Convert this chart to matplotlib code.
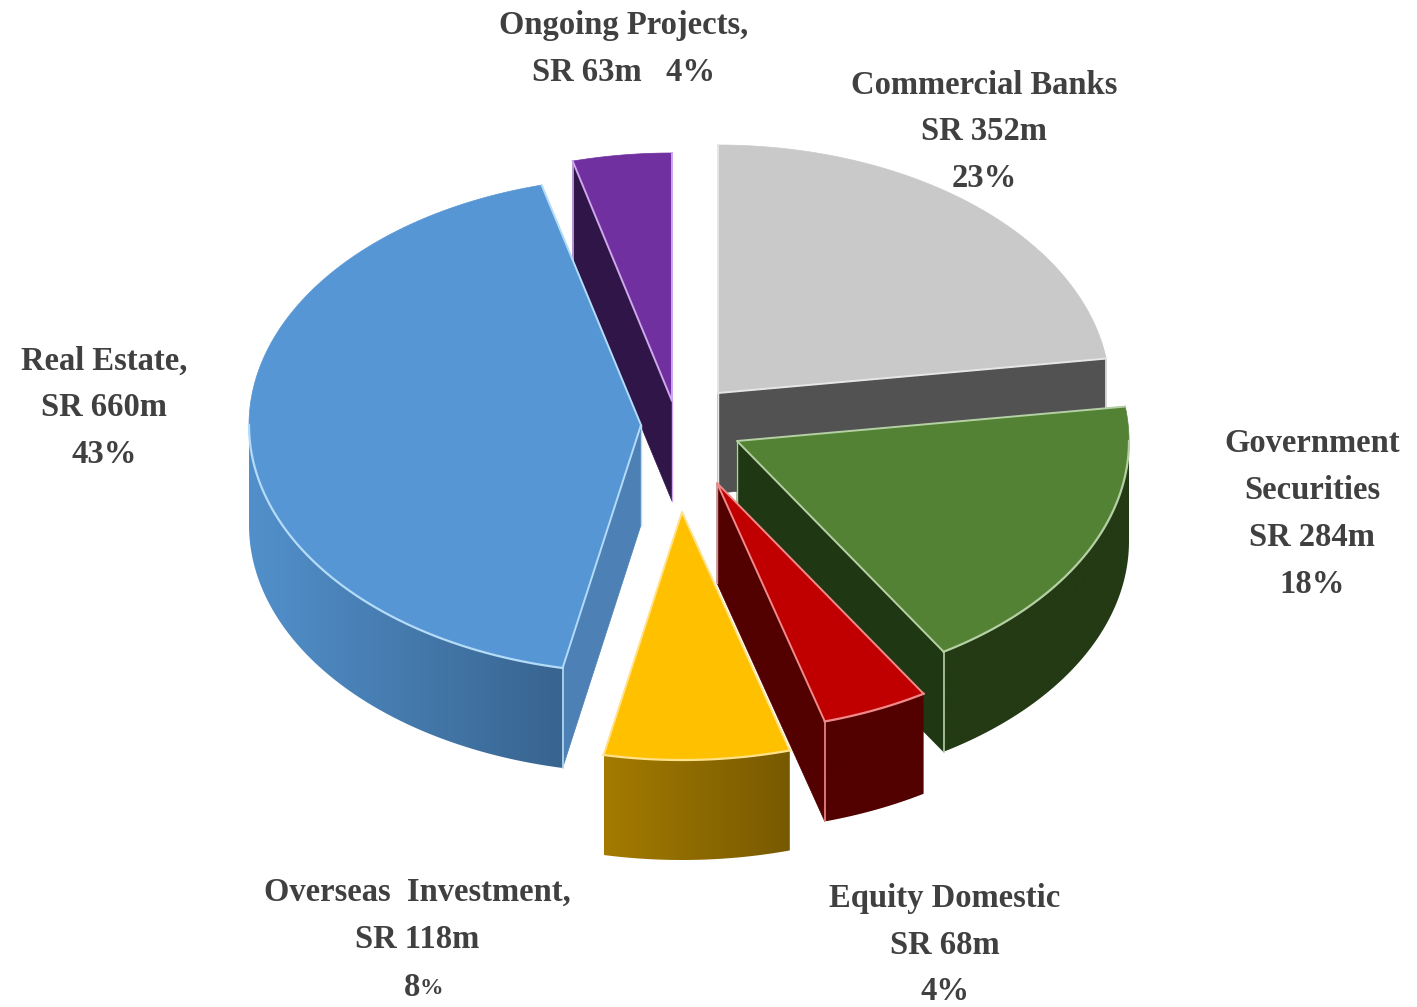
import numpy as np
import matplotlib
matplotlib.use('Agg')
from matplotlib import pyplot as plt
from matplotlib.colors import to_rgb
from matplotlib.patches import Polygon

# Investment portfolio, SR million, clockwise from 12 o'clock
names = ['Commercial Banks', 'Government Securities', 'Equity Domestic',
         'Overseas Investment', 'Real Estate', 'Ongoing Projects']
values = [352, 284, 68, 118, 660, 63]

labels = ['Commercial Banks\nSR 352m\n23%',
          'Government\nSecurities\nSR 284m\n18%',
          'Equity Domestic\nSR 68m\n4%',
          'Overseas  Investment,\nSR 118m',
          'Real Estate,\nSR 660m\n43%',
          'Ongoing Projects,\nSR 63m   4%']

# Pixel canvas layout
RX, RY, DEPTH = 392, 248, 100
apex = [(718, 393), (737, 441), (717, 483), (682, 512), (641, 425), (672, 401)]
label_pos = [(984, 132), (1312, 514), (945, 945), (417, 916), (104, 408), (624, 49)]

top_colors = ['#c9c9c9', '#548235', '#c00000', '#ffc000', '#5796d4', '#7030a0']
line_colors = ['#e6e6e6', '#b5d0a4', '#f08a8a', '#ffe28a', '#b4dcf8', '#cfa8ec']
cut_colors = ['#525252', '#1f3813', '#520000', '#806000', '#4d80b4', '#2f1548']
rim_left = ['#525252', '#233a14', '#520000', '#a47b00', '#5290cb', '#2f1548']
rim_right = ['#525252', '#233a14', '#520000', '#775900', '#38648f', '#2f1548']


def rim_xy(center, t):
    return center[0] + RX * np.sin(t), center[1] - RY * np.cos(t)


def draw_slice(ax, center, t0, t1, i, z):
    cx, cy = center

    # cut faces: only the ones turned towards the viewer
    for t, visible in [(t0, np.sin(t0) < -1e-6), (t1, np.sin(t1) > 1e-6)]:
        if visible:
            x, y = rim_xy(center, t)
            ax.add_patch(Polygon([(cx, cy), (x, y), (x, y + DEPTH), (cx, cy + DEPTH)],
                                 closed=True, fc=cut_colors[i], ec=cut_colors[i], lw=0.5, zorder=z))

    # front rim, a left to right gradient clipped to the rim outline
    lo, hi = max(t0, np.pi / 2), min(t1, 3 * np.pi / 2)
    if hi > lo:
        ts = np.linspace(lo, hi, 120)
        xs, ys = rim_xy(center, ts)
        outline = list(zip(xs, ys)) + list(zip(xs[::-1], ys[::-1] + DEPTH))
        clip = Polygon(outline, closed=True, fc='none', ec='none', transform=ax.transData, zorder=z)
        ax.add_patch(clip)
        fade = np.linspace(0, 1, 256)[None, :, None]
        c_left, c_right = np.array(to_rgb(rim_left[i])), np.array(to_rgb(rim_right[i]))
        shade = c_left + (c_right - c_left) * fade
        im = ax.imshow(shade, extent=(xs.min(), xs.max(), ys.max() + DEPTH, ys.min()),
                       aspect='auto', zorder=z + 0.1)
        im.set_clip_path(clip)

    # edge lines on the cut faces
    for t, visible in [(t0, np.sin(t0) < -1e-6), (t1, np.sin(t1) > 1e-6)]:
        if visible:
            x, y = rim_xy(center, t)
            ax.plot([x, x], [y, y + DEPTH], color=line_colors[i], lw=1.2, zorder=z + 0.2)
            ax.plot([cx, cx], [cy, cy + DEPTH], color=line_colors[i], lw=1.0, zorder=z + 0.2)

    # top face, outlined along the radii and the front arc only
    ts = np.linspace(t0, t1, 200)
    xs, ys = rim_xy(center, ts)
    pts = [(cx, cy)] + list(zip(xs, ys))
    ax.add_patch(Polygon(pts, closed=True, fc=top_colors[i], ec=top_colors[i], lw=0.5, zorder=z + 0.3))
    x0, y0 = rim_xy(center, t0)
    x1, y1 = rim_xy(center, t1)
    ax.plot([x0, cx, x1], [y0, cy, y1], color=line_colors[i], lw=1.4, zorder=z + 0.4)
    if hi > lo:
        ts = np.linspace(lo, hi, 120)
        xs, ys = rim_xy(center, ts)
        ax.plot(xs, ys, color=line_colors[i], lw=1.6, zorder=z + 0.4)


fig = plt.figure(figsize=(14.17, 10.07), dpi=100)
ax = fig.add_axes([0, 0, 1, 1])

angles = np.concatenate([[0], np.cumsum(values)]) / sum(values) * 2 * np.pi

# back slices first so the nearer ones cover them
for z, i in enumerate([5, 0, 1, 4, 2, 3]):
    draw_slice(ax, apex[i], angles[i], angles[i + 1], i, z + 2)

ax.set_xlim(0, 1417)
ax.set_ylim(1007, 0)
ax.axis('off')

for text, (x, y) in zip(labels, label_pos):
    ax.text(x, y, text, ha='center', va='center', family='Liberation Serif', weight='bold',
            fontsize=23.5, color='#404040', linespacing=1.66, zorder=10)

# the 8% label has a smaller percent sign
ax.text(420, 987, '8', ha='right', va='center', family='Liberation Serif', weight='bold',
        fontsize=23.5, color='#404040', zorder=10)
ax.text(420, 989, '%', ha='left', va='center', family='Liberation Serif', weight='bold',
        fontsize=17, color='#404040', zorder=10)

fig.savefig('out.png', dpi=100)
